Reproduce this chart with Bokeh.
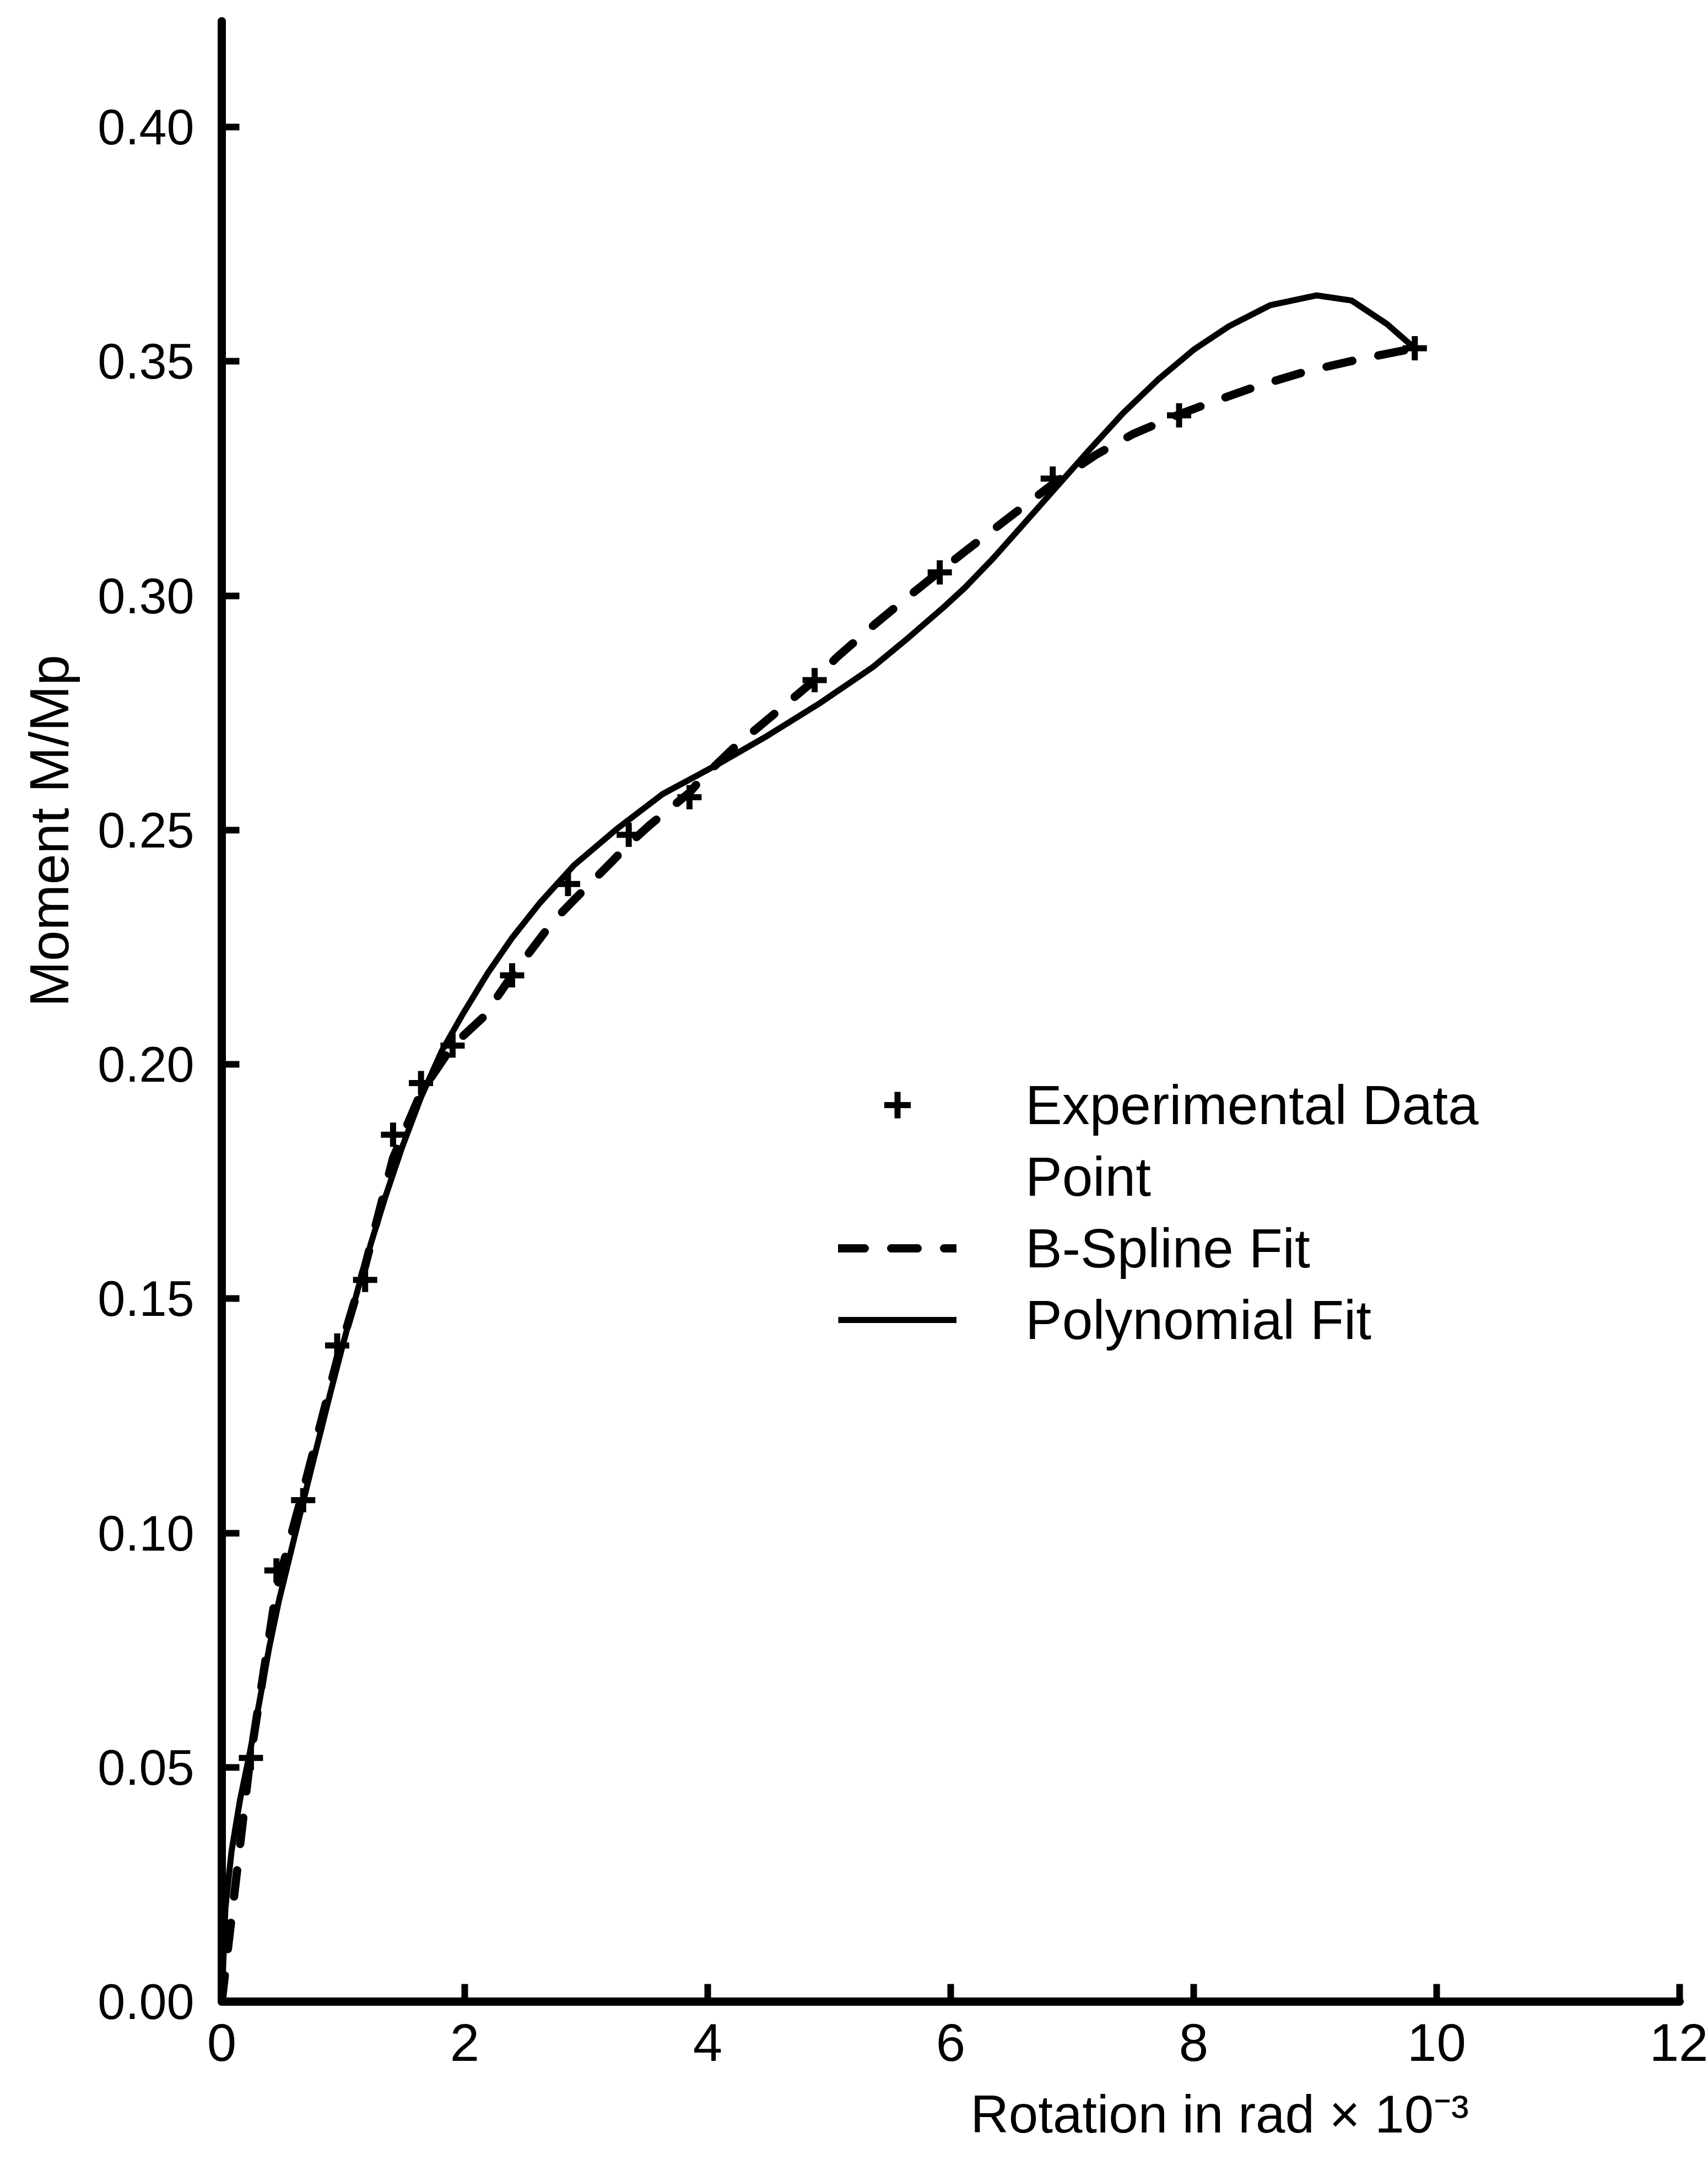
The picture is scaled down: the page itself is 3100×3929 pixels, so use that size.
from bokeh.plotting import figure
from bokeh.models import Range1d, FixedTicker, Legend, LegendItem, Title
from bokeh.embed import file_html
from bokeh.resources import INLINE

# ---------------- data ----------------
# Experimental data points (rotation x1e-3 rad, M/Mp)
exp_x = [0.24, 0.45, 0.67, 0.95, 1.18, 1.41, 1.64, 1.90, 2.39, 2.85,
         3.35, 3.85, 4.88, 5.91, 6.84, 7.88, 9.82]
exp_y = [0.052, 0.092, 0.107, 0.140, 0.154, 0.185, 0.196, 0.204, 0.219, 0.2385,
         0.249, 0.257, 0.282, 0.305, 0.325, 0.3385, 0.3528]

# B-spline fit (dashed)
bs_x = [0, 0.23, 0.45, 0.67, 0.95, 1.18, 1.41, 1.64, 1.90, 2.15, 2.39, 2.72,
        2.90, 3.03, 3.22, 3.35, 3.52, 3.66, 3.85, 3.95, 4.20, 4.41, 4.66, 4.88,
        5.06, 5.37, 5.65, 5.91, 6.12, 6.52, 6.84, 7.19, 7.50, 7.88, 8.17, 8.52,
        8.93, 9.37, 9.82]
bs_y = [0, 0.051, 0.088, 0.109, 0.137, 0.157, 0.180, 0.194, 0.204, 0.210,
        0.219, 0.2303, 0.2351, 0.2385, 0.2435, 0.2470, 0.2510, 0.2540, 0.2580,
        0.2610, 0.2672, 0.2718, 0.2772, 0.2820, 0.2868, 0.2938, 0.2998, 0.3052,
        0.3095, 0.3175, 0.3238, 0.3300, 0.3345, 0.3387, 0.3415, 0.3447, 0.3479,
        0.3505, 0.3528]

# Polynomial fit (solid)
pf_x = [0, 0.03, 0.08, 0.15, 0.23, 0.31, 0.39, 0.47, 0.55, 0.64, 0.74, 0.89,
        1.00, 1.12, 1.23, 1.35, 1.48, 1.64, 1.81, 1.99, 2.19, 2.39, 2.62, 2.90,
        3.25, 3.63, 4.06, 4.49, 4.93, 5.36, 5.65, 5.94, 6.12, 6.35, 6.60, 6.87,
        7.13, 7.42, 7.71, 8.00, 8.29, 8.63, 9.01, 9.30, 9.59, 9.82]
pf_y = [0, 0.020, 0.032, 0.043, 0.053, 0.064, 0.0755, 0.0855, 0.094, 0.1035,
        0.1140, 0.1295, 0.1405, 0.1520, 0.1620, 0.1720, 0.1820, 0.1930, 0.2028,
        0.2110, 0.2195, 0.2270, 0.2345, 0.2425, 0.2502, 0.2577, 0.2637, 0.2701,
        0.2772, 0.2848, 0.2910, 0.2975, 0.3018, 0.3080, 0.3153, 0.3232, 0.3308,
        0.3390, 0.3462, 0.3525, 0.3575, 0.3620, 0.3641, 0.3630, 0.3580, 0.3528]

x_ticks = [0, 2, 4, 6, 8, 10, 12]
x_tick_labels = ["0", "2", "4", "6", "8", "10", "12"]
y_ticks = [0.0, 0.05, 0.1, 0.15, 0.2, 0.25, 0.3, 0.35, 0.4]
y_tick_labels = ["0.00", "0.05", "0.10", "0.15", "0.20", "0.25", "0.30", "0.35", "0.40"]

legend_labels = ["Experimental Data", "Point", "B-Spline Fit", "Polynomial Fit"]
x_title = "Rotation in rad \u00d7 10\u207b\u00b3"
y_title = "Moment M/Mp"

# ---------------- figure ----------------
FONT = "Liberation Sans"

p = figure(width=3100, height=3929, output_backend="svg", toolbar_location=None,
           x_range=Range1d(0, 12), y_range=Range1d(0, 0.4226),
           min_border_left=398, min_border_right=52, min_border_top=38,
           min_border_bottom=297, title=None)
p.background_fill_color = "white"
p.border_fill_color = "white"
p.outline_line_color = None
p.xgrid.visible = False
p.ygrid.visible = False

for ax in (p.xaxis[0], p.yaxis[0]):
    ax.axis_line_width = 15
    ax.axis_line_color = "black"
    ax.axis_line_cap = "round"
    ax.major_tick_in = 32
    ax.major_tick_out = 0
    ax.major_tick_line_width = 12
    ax.major_tick_line_color = "black"
    ax.minor_tick_line_color = None
    ax.major_label_text_font = FONT
    ax.major_label_text_color = "black"

p.xaxis[0].ticker = FixedTicker(ticks=x_ticks)
p.xaxis[0].major_label_overrides = dict(zip(x_ticks, x_tick_labels))
p.xaxis[0].major_label_text_font_size = "96px"
p.xaxis[0].major_label_standoff = 40

p.yaxis[0].ticker = FixedTicker(ticks=y_ticks)
p.yaxis[0].major_label_overrides = dict(zip(y_ticks, y_tick_labels))
p.yaxis[0].major_label_text_font_size = "90px"
p.yaxis[0].major_label_standoff = 50

# ---------------- series ----------------
r_spline = p.line(bs_x, bs_y, line_width=15, line_color="black",
                  line_dash="48 48", line_cap="round", line_join="round")
r_poly = p.line(pf_x, pf_y, line_width=11, line_color="black", line_join="round")
r_pts = p.scatter(exp_x, exp_y, marker="cross", size=44, line_width=11,
                  line_color="black")
r_blank = p.scatter([], [], marker="cross", size=0, line_alpha=0, fill_alpha=0)

legend = Legend(items=[
    LegendItem(label=legend_labels[0], renderers=[r_pts]),
    LegendItem(label=legend_labels[1], renderers=[r_blank]),
    LegendItem(label=legend_labels[2], renderers=[r_spline]),
    LegendItem(label=legend_labels[3], renderers=[r_poly]),
], location=(1119, 1177))
legend.label_text_font = FONT
legend.label_text_font_size = "100px"
legend.label_text_color = "black"
legend.label_text_baseline = "middle"
legend.glyph_width = 215
legend.glyph_height = 120
legend.label_height = 120
legend.label_standoff = 125
legend.spacing = 10
legend.padding = 0
legend.margin = 0
legend.border_line_alpha = 0
legend.background_fill_alpha = 0
p.add_layout(legend)

# ---------------- axis titles (as side-panel titles, offset along the axis) ----------------
t_y = Title(text=y_title, align="left", offset=1805, standoff=60,
            vertical_align="bottom", text_font=FONT, text_font_size="100px",
            text_font_style="normal", text_color="black")
p.add_layout(t_y, "left")
t_x = Title(text=x_title, align="left", offset=1359, standoff=76,
            vertical_align="bottom", text_font=FONT, text_font_size="96px",
            text_font_style="normal", text_color="black")
p.add_layout(t_x, "below")

open("out.html", "w").write(file_html(p, INLINE))
